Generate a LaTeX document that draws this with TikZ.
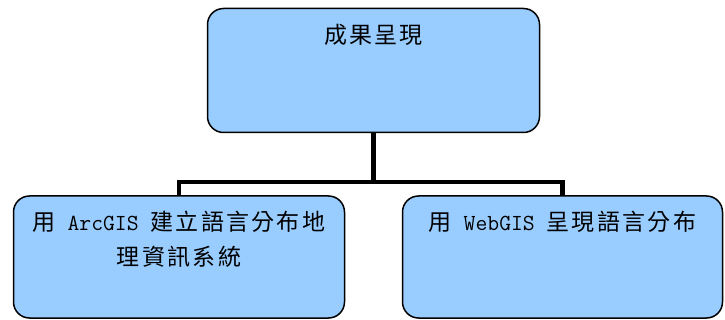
\documentclass[tikz,border=0pt]{standalone}
\usepackage{fontspec}
\newfontfamily\cjk[LetterSpace=10]{Noto Sans CJK TC}
\definecolor{boxblue}{HTML}{99CCFF}
\tikzset{
    box/.style={draw=black, line width=1.5pt, fill=boxblue, rounded corners=16pt,
        inner sep=0pt, anchor=center},
    conn/.style={line width=4.5pt}
}
\begin{document}
\begin{tikzpicture}[x=1pt,y=1pt,font=\fontsize{23}{35}\selectfont\ttfamily]
        \useasboundingbox (0,0) rectangle (725,-320);
        %%%%%%%%%% Nodi %%%%%%%%%%
        \node[box] (result) at (373.5,-70.5)
            {\parbox[c][124pt][t]{332pt}{\centering\vspace{16pt}{\cjk 成果呈現}}};
        \node[box] (arcgis) at (179,-257)
            {\parbox[c][122pt][t]{331pt}{\centering\vspace{15pt}{\cjk 用} ArcGIS {\cjk 建立語言分布地}\\{\cjk 理資訊系統}}};
        \node[box] (webgis) at (562.5,-257)
            {\parbox[c][122pt][t]{320pt}{\centering\vspace{15pt}{\cjk 用} WebGIS {\cjk 呈現語言分布}}};
        \coordinate (bar) at (373.5,-182);

        %%%%%%%%% Linee %%%%%%%%%
        \draw[conn] (result.south) -- (bar);
        \draw[conn] (bar) -| (arcgis.north);
        \draw[conn] (bar) -| (webgis.north);
    \end{tikzpicture}
\end{document}
